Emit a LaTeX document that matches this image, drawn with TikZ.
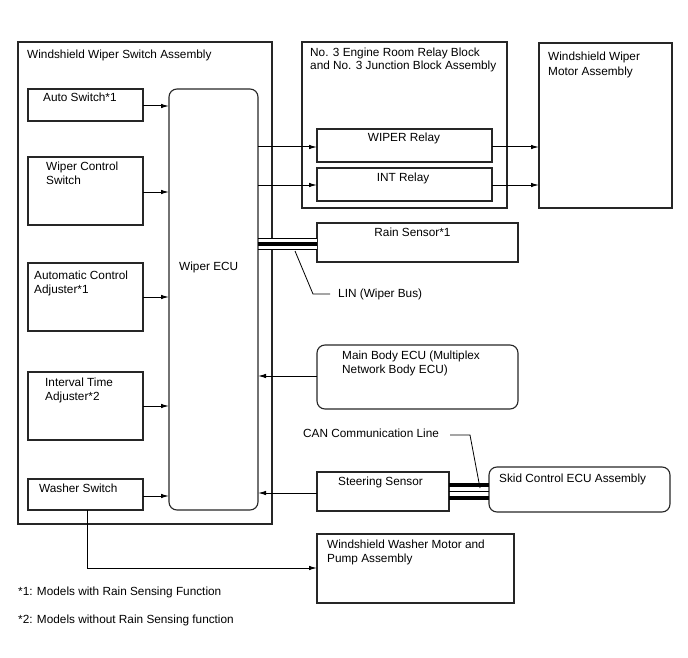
\documentclass[tikz,border=0pt]{standalone}
\usepackage{fontspec}
\setmainfont{Liberation Sans}
\usetikzlibrary{arrows.meta}
\begin{document}
\begin{tikzpicture}[x=1pt,y=-1pt,
  box/.style={draw=black!85,line width=1.1pt},
  rbox/.style={draw=black!85,line width=1.1pt,rounded corners=8pt},
  txt/.style={inner sep=0pt,anchor=base west,align=left,font=\fontsize{11.8}{14.3}\selectfont},
  ctxt/.style={inner sep=0pt,anchor=base,font=\fontsize{11.8}{14.3}\selectfont},
  conn/.style={draw=black,line width=1pt},
  arr/.style={draw=black,line width=1pt,-{Latex[length=8pt,width=4.5pt]}}]
\useasboundingbox (0,0) rectangle (688,658);
% Switch assembly
\draw[box] (18,42) rectangle (272,524);
\node[txt] (tsw) at (27,59) {Windshield Wiper Switch Assembly};
\coordinate (as1) at (28,89); \coordinate (as2) at (143,121);
\draw[box] (as1) rectangle (as2);
\node[txt] (tauto) at (43,102) {Auto Switch*1};
\draw[box] (28,157) rectangle (143,225);
\node[txt] (twc) at (46,184.3) {Wiper Control\\Switch};
\draw[box] (28,263) rectangle (143,331);
\node[txt] (tac) at (34,293.3) {Automatic Control\\Adjuster*1};
\draw[box] (28,372) rectangle (143,440);
\node[txt] (tit) at (45,400.3) {Interval Time\\Adjuster*2};
\draw[box] (28,479) rectangle (143,510);
\node[txt] (tws) at (39,492) {Washer Switch};
\draw[rbox] (169,89) rectangle (258,510);
\node[txt] (tecu) at (179,270) {Wiper ECU};
% arrows into ECU
\foreach \y in {106,192,297,406,496} \draw[arr] (143,\y) -- (169,\y);
% relay block
\draw[box] (302,42) rectangle (507,208);
\node[txt] (trb) at (310,70) {No. 3 Engine Room Relay Block\\[-1.3pt]and No. 3 Junction Block Assembly};
\draw[box] (317,129) rectangle (492,162);
\node[ctxt] (twr) at (404,142) {WIPER Relay};
\draw[box] (317,168) rectangle (492,201);
\node[ctxt] (tint) at (403,181.5) {INT Relay};
% motor
\draw[box] (539,43) rectangle (672,208);
\node[txt] (tmot) at (548,75.3) {Windshield Wiper\\Motor Assembly};
\draw[arr] (258,147) -- (317,147);
\draw[arr] (258,185) -- (317,185);
\draw[arr] (492,147) -- (539,147);
\draw[arr] (492,185) -- (539,185);
% rain sensor and LIN
\draw[box] (317,223) rectangle (518,262);
\node[ctxt] (train) at (412.5,236) {Rain Sensor*1};
\fill[white] (258.5,238.5) rectangle (316.5,249);
\draw[line width=0.9pt] (258,238.5) -- (317,238.5);
\draw[line width=0.9pt] (258,249) -- (317,249);
\draw[line width=3.5pt] (258,243.8) -- (317,243.8);
\draw[conn,line width=0.8pt] (295,251) -- (313,294) -- (330,294);
\node[txt] (tlin) at (338,297) {LIN (Wiper Bus)};
% main body ECU
\draw[rbox] (317,345) rectangle (518,409);
\node[txt] (tmb) at (342,373.3) {Main Body ECU (Multiplex\\Network Body ECU)};
\draw[arr] (317,376) -- (258,376);
% steering / skid
\node[txt] (tcan) at (303,437) {CAN Communication Line};
\draw[box] (317,472) rectangle (449,511);
\node[ctxt] (tst) at (380.5,485) {Steering Sensor};
\draw[rbox] (489,467) rectangle (670,512);
\node[txt] (tsk) at (499,482) {Skid Control ECU Assembly};
\draw[line width=0.8pt] (449,491.2) -- (489,491.2);
\draw[line width=4pt] (449,485.2) -- (489,485.2);
\draw[line width=4pt] (449,497.5) -- (489,497.5);
\draw[conn,line width=0.8pt] (450,435) -- (470,435) -- (480,488);
\draw[arr] (317,493) -- (258,493);
% washer motor
\draw[box] (317,534) rectangle (514,603);
\node[txt] (twm) at (327,562.3) {Windshield Washer Motor and\\Pump Assembly};
\draw[arr] (87,510) -- (87,568) -- (317,568);
% footnotes
\node[txt] (fn1) at (18,595) {*1: Models with Rain Sensing Function};
\node[txt] (fn2) at (18,623) {*2: Models without Rain Sensing function};
\end{tikzpicture}
\end{document}
